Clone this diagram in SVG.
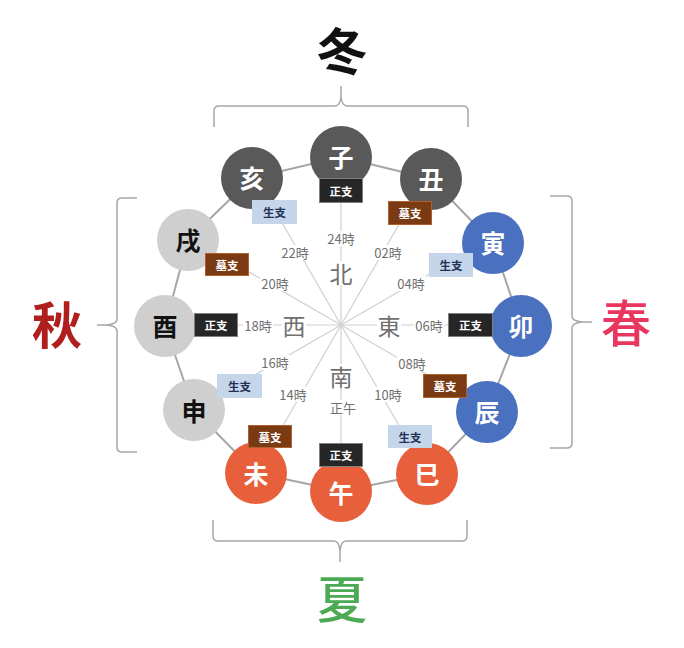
<svg xmlns="http://www.w3.org/2000/svg" width="684" height="648" viewBox="0 0 684 648">
<style>
text{font-family:"Noto Sans CJK JP","Noto Sans",sans-serif;text-anchor:middle;dominant-baseline:central}
.spoke{stroke:#d0d0d0;stroke-width:1.2}
.ring{stroke:#a6a6a6;stroke-width:2;fill:none}
.brace{stroke:#a6a6a6;stroke-width:1.5;fill:none}
.bg{fill:#fff}
.time{font-size:13px;fill:#707070}
.dir{font-size:23px;fill:#707070}
.nd{fill:#595959}
.nb{fill:#4a70c0}
.no{fill:#e85f3c}
.ng{fill:#cfcfcf}
.nt{font-size:25px;font-weight:700;fill:#fff}
.ntk{font-size:25px;font-weight:700;fill:#111}
.sei{fill:#262626;stroke:#808080;stroke-width:1}
.bo{fill:#7a3a14;stroke:#b0602a;stroke-width:1}
.sh{fill:#c5d6eb}
.bt{font-size:11.5px;font-weight:700;fill:#fff}
.btd{font-size:11.5px;font-weight:700;fill:#223055}
</style>
<g id="braces">
<path class="brace" d="M214,127 L214,111 Q214,106 219,106 L335,106 Q340,106 341,97 L341,86 M341,97 Q342,106 347,106 L463,106 Q468,106 468,111 L468,127"/>
<path class="brace" d="M213,520 L213,536 Q213,541 218,541 L334,541 Q339,541 340,551 L340,562 M340,551 Q341,541 346,541 L462,541 Q467,541 467,536 L467,520"/>
<path class="brace" d="M137,198 L122,198 Q117,198 117,203 L117,319 Q117,324 107,325 L97,325 M107,325 Q117,326 117,331 L117,447 Q117,452 122,452 L137,452"/>
<path class="brace" d="M550,196 L567,196 Q572,196 572,201 L572,316 Q572,321 582,322 L592,322 M582,322 Q572,323 572,328 L572,443 Q572,448 567,448 L550,448"/>
</g>
<g id="seasons">
<text x="342" y="48" font-size="50" font-weight="700" fill="#111">冬</text>
<text x="57" y="322" font-size="50" font-weight="700" fill="#b01e1e">秋</text>
<text x="626" y="320" font-size="50" font-weight="500" fill="#e8365f">春</text>
<text x="342" y="596" font-size="50" font-weight="500" fill="#4caa55">夏</text>
</g>
<g id="connectors">
<g id="spokes">
<line class="spoke" x1="341" y1="325" x2="341" y2="160"/>
<line class="spoke" x1="341" y1="325" x2="423.5" y2="182"/>
<line class="spoke" x1="341" y1="325" x2="484" y2="242.5"/>
<line class="spoke" x1="341" y1="325" x2="506" y2="325"/>
<line class="spoke" x1="341" y1="325" x2="484" y2="407.5"/>
<line class="spoke" x1="341" y1="325" x2="423.5" y2="468"/>
<line class="spoke" x1="341" y1="325" x2="341" y2="490"/>
<line class="spoke" x1="341" y1="325" x2="258.5" y2="468"/>
<line class="spoke" x1="341" y1="325" x2="198" y2="407.5"/>
<line class="spoke" x1="341" y1="325" x2="176" y2="325"/>
<line class="spoke" x1="341" y1="325" x2="198" y2="242.5"/>
<line class="spoke" x1="341" y1="325" x2="258.5" y2="182"/>
</g>
<polygon id="ring" class="ring" points="341,157 431,179 493,243 521,326 487,412 427,474 341,491 256,473 194,410 165,326 188,240 252,178"/>
</g>
<g id="labels">
<rect class="bg" x="326" y="231" width="30" height="15"/><text class="time" x="341" y="238">24時</text>
<rect class="bg" x="280" y="245" width="30" height="15"/><text class="time" x="295" y="252">22時</text>
<rect class="bg" x="373" y="245" width="30" height="15"/><text class="time" x="388" y="252">02時</text>
<rect class="bg" x="260" y="276" width="30" height="15"/><text class="time" x="275" y="283">20時</text>
<rect class="bg" x="396" y="276" width="30" height="15"/><text class="time" x="411" y="283">04時</text>
<rect class="bg" x="243" y="318" width="30" height="15"/><text class="time" x="258" y="325">18時</text>
<rect class="bg" x="414" y="318" width="30" height="15"/><text class="time" x="429" y="325">06時</text>
<rect class="bg" x="260" y="355" width="30" height="15"/><text class="time" x="275" y="362">16時</text>
<rect class="bg" x="397" y="355" width="30" height="15"/><text class="time" x="412" y="363">08時</text>
<rect class="bg" x="278" y="387" width="30" height="15"/><text class="time" x="293" y="394">14時</text>
<rect class="bg" x="373" y="387" width="30" height="15"/><text class="time" x="388" y="394">10時</text>
<rect class="bg" x="329" y="400" width="28" height="15"/><text class="time" x="343" y="407">正午</text>
<rect class="bg" x="329" y="261" width="24" height="24"/><text class="dir" x="341" y="273">北</text>
<rect class="bg" x="282" y="313" width="24" height="24"/><text class="dir" x="294" y="325">西</text>
<rect class="bg" x="377" y="313" width="24" height="24"/><text class="dir" x="389" y="325">東</text>
<rect class="bg" x="329" y="364" width="24" height="24"/><text class="dir" x="341" y="376">南</text>
</g>
<g id="node-zi"><circle class="nd" cx="341" cy="157" r="31"/><text class="nt" x="341" y="156">子</text></g>
<g id="node-chou"><circle class="nd" cx="431" cy="179" r="31"/><text class="nt" x="431" y="178">丑</text></g>
<g id="node-yin"><circle class="nb" cx="493" cy="243" r="31"/><text class="nt" x="493" y="242">寅</text></g>
<g id="node-mao"><circle class="nb" cx="521" cy="326" r="31"/><text class="nt" x="521" y="325">卯</text></g>
<g id="node-chen"><circle class="nb" cx="487" cy="412" r="31"/><text class="nt" x="487" y="411">辰</text></g>
<g id="node-si"><circle class="no" cx="427" cy="474" r="31"/><text class="nt" x="427" y="473">巳</text></g>
<g id="node-wu"><circle class="no" cx="341" cy="491" r="31"/><text class="nt" x="341" y="492">午</text></g>
<g id="node-wei"><circle class="no" cx="256" cy="473" r="31"/><text class="nt" x="256" y="473">未</text></g>
<g id="node-shen"><circle class="ng" cx="194" cy="410" r="31"/><text class="ntk" x="194" y="410">申</text></g>
<g id="node-you"><circle class="ng" cx="165" cy="326" r="31"/><text class="ntk" x="165" y="325">酉</text></g>
<g id="node-xu"><circle class="ng" cx="188" cy="240" r="31"/><text class="ntk" x="188" y="239">戌</text></g>
<g id="node-hai"><circle class="nd" cx="252" cy="178" r="31"/><text class="nt" x="252" y="177">亥</text></g>
<g id="tags">
<g id="tag-zi"><rect class="sei" x="319.5" y="178.5" width="43" height="24"/><text class="bt" x="341" y="190.5">正支</text></g>
<g id="tag-chou"><rect class="bo" x="388.5" y="201.5" width="43" height="23"/><text class="bt" x="410" y="213">墓支</text></g>
<g id="tag-yin"><rect class="sh" x="429" y="253" width="44" height="24"/><text class="btd" x="451" y="265">生支</text></g>
<g id="tag-mao"><rect class="sei" x="448.5" y="313.5" width="44" height="23"/><text class="bt" x="470.5" y="325">正支</text></g>
<g id="tag-chen"><rect class="bo" x="423.5" y="374.5" width="43" height="23"/><text class="bt" x="445" y="386">墓支</text></g>
<g id="tag-si"><rect class="sh" x="388" y="425" width="44" height="23"/><text class="btd" x="410" y="436.5">生支</text></g>
<g id="tag-wu"><rect class="sei" x="319.5" y="443.5" width="43" height="23"/><text class="bt" x="341" y="455">正支</text></g>
<g id="tag-wei"><rect class="bo" x="248.5" y="425.5" width="43" height="22"/><text class="bt" x="270" y="436.5">墓支</text></g>
<g id="tag-shen"><rect class="sh" x="217" y="374" width="45" height="24"/><text class="btd" x="239.5" y="386">生支</text></g>
<g id="tag-you"><rect class="sei" x="194.5" y="313.5" width="43" height="23"/><text class="bt" x="216" y="325">正支</text></g>
<g id="tag-xu"><rect class="bo" x="205.5" y="253.5" width="43" height="22"/><text class="bt" x="227" y="264.5">墓支</text></g>
<g id="tag-hai"><rect class="sh" x="252" y="200" width="45" height="24"/><text class="btd" x="274.5" y="212">生支</text></g>
</g>
</svg>
